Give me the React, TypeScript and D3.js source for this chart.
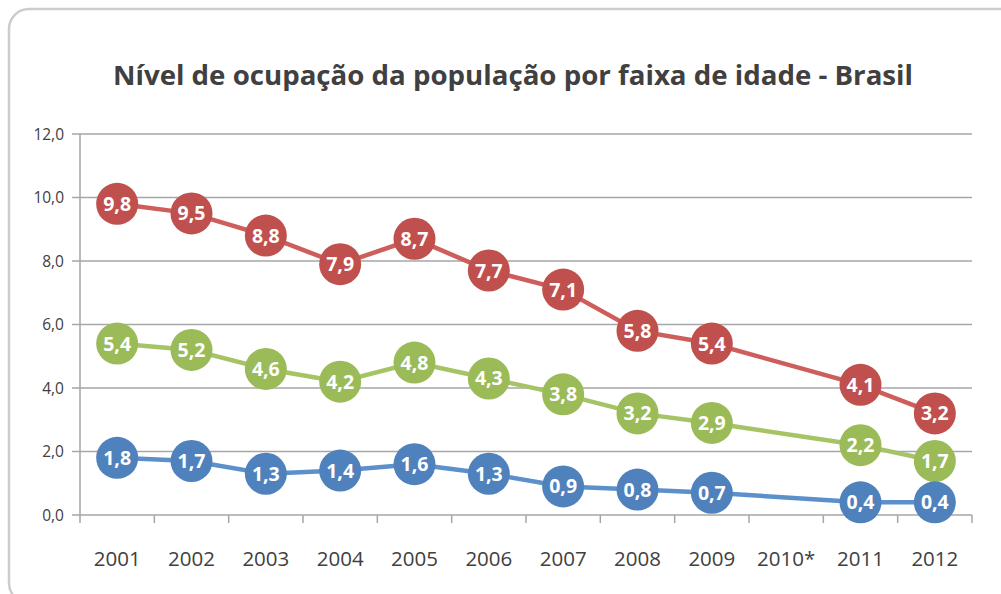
import React from "react";
import * as d3 from "d3";

const categories = ["2001","2002","2003","2004","2005","2006","2007","2008","2009","2010*","2011","2012"];
const redValues = [9.8, 9.5, 8.8, 7.9, 8.7, 7.7, 7.1, 5.8, 5.4, null, 4.1, 3.2];
const greenValues = [5.4, 5.2, 4.6, 4.2, 4.8, 4.3, 3.8, 3.2, 2.9, null, 2.2, 1.7];
const blueValues = [1.8, 1.7, 1.3, 1.4, 1.6, 1.3, 0.9, 0.8, 0.7, null, 0.4, 0.4];
const yTicks = [0, 2, 4, 6, 8, 10, 12];
const title = "Nível de ocupação da população por faixa de idade - Brasil";

const series = [
  { name: "red", values: redValues, fill: "#C0504D", line: "#CD5E5B" },
  { name: "green", values: greenValues, fill: "#9BBB59", line: "#A6C466" },
  { name: "blue", values: blueValues, fill: "#4F81BD", line: "#5B90CB" },
];

const W = 1001, H = 594;
const left = 80, right = 972, top = 134, bottom = 515;

export default function App() {
  const x = d3.scaleBand<string>().domain(categories).range([left, right]).padding(0);
  const cx = (c: string) => (x(c) as number) + x.bandwidth() / 2;
  const y = d3.scaleLinear().domain([0, 12]).range([bottom, top]);
  const fmt = (v: number) => v.toFixed(1).replace(".", ",");
  const font = "'Open Sans', 'DejaVu Sans', sans-serif";

  return (
    <svg width={W} height={H} style={{ position: "absolute", left: 0, top: 0 }} fontFamily={font}>
      <rect x={0} y={0} width={W} height={H} fill="#fff" />
      <rect x={9} y={9} width={1040} height={594} rx={20} ry={20} fill="#fff" stroke="#cccccc" strokeWidth={2.5} />
      <text x={513} y={85} textAnchor="middle" fontSize={26} fontWeight={700} fill="#404040" textLength={800} lengthAdjust="spacingAndGlyphs">{title}</text>
      {yTicks.map((t) => (
        <g key={t}>
          <line x1={72} x2={right} y1={y(t)} y2={y(t)} stroke="#a6a6a6" strokeWidth={1.5} />
          <text x={64} y={y(t) + 5.5} textAnchor="end" fontSize={15.5} fill="#404040">{fmt(t)}</text>
        </g>
      ))}
      <line x1={left} x2={left} y1={top} y2={bottom} stroke="#a6a6a6" strokeWidth={1.5} />
      {categories.map((c, i) => (
        <line key={"t" + i} x1={x(c) as number} x2={x(c) as number} y1={bottom} y2={bottom + 8} stroke="#a6a6a6" strokeWidth={1.5} />
      ))}
      <line x1={right} x2={right} y1={bottom} y2={bottom + 8} stroke="#a6a6a6" strokeWidth={1.5} />
      {categories.map((c) => (
        <text key={"x" + c} x={cx(c)} y={566} textAnchor="middle" fontSize={20.5} fill="#404040">{c}</text>
      ))}
      {series.map((s) => {
        const pts = categories
          .map((c, i) => ({ c, v: s.values[i] }))
          .filter((d) => d.v !== null) as { c: string; v: number }[];
        const path = d3.line<{ c: string; v: number }>().x((d) => cx(d.c)).y((d) => y(d.v))(pts) || "";
        return (
          <g key={s.name}>
            <path d={path} fill="none" stroke={s.line} strokeWidth={4.5} />
            {pts.map((d) => (
              <g key={d.c}>
                <circle cx={cx(d.c)} cy={y(d.v)} r={21} fill={s.fill} />
                <text x={cx(d.c)} y={y(d.v) + 7} textAnchor="middle" fontSize={19.5} fontWeight={700} fill="#fff">{fmt(d.v)}</text>
              </g>
            ))}
          </g>
        );
      })}
    </svg>
  );
}
